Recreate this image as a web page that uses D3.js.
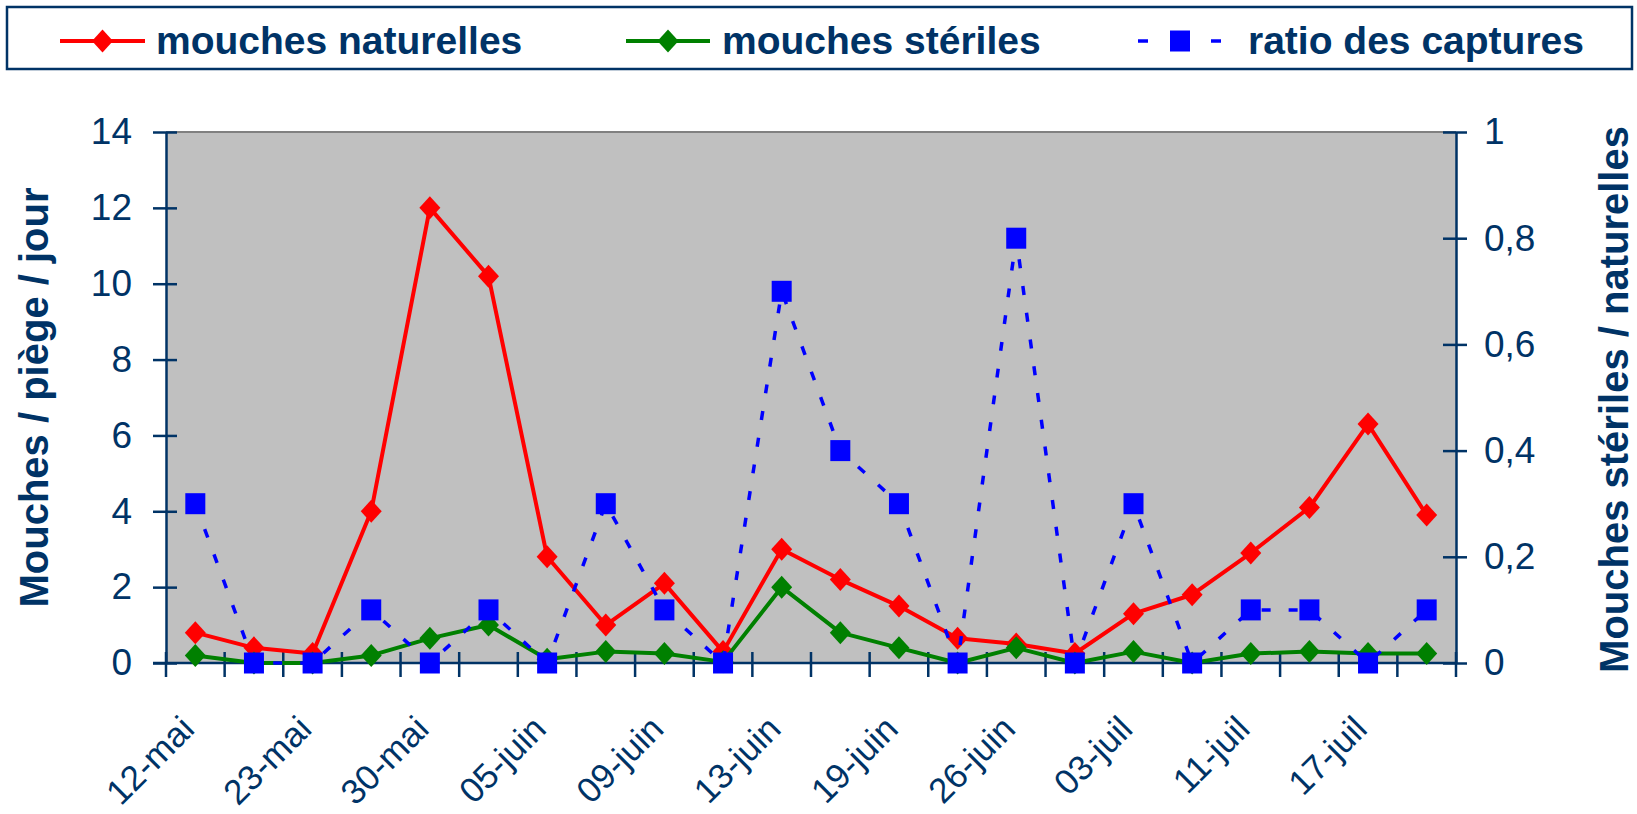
<!DOCTYPE html>
<html>
<head>
<meta charset="utf-8">
<script src="https://cdn.jsdelivr.net/npm/d3@7"></script>
<style>
  body { margin: 0; background: #fff; }
  svg { display: block; font-family: Arial, "Liberation Sans", sans-serif; }
</style>
</head>
<body>
<div id="chart"></div>
<script>
// data
var dateLabels = ["12-mai", "23-mai", "30-mai", "05-juin", "09-juin", "13-juin",
                  "19-juin", "26-juin", "03-juil", "11-juil", "17-juil"];
var naturelles = [0.8, 0.4, 0.25, 4.0, 12.0, 10.2, 2.8, 1.0, 2.1, 0.3, 3.0,
                  2.2, 1.5, 0.65, 0.5, 0.25, 1.3, 1.8, 2.9, 4.1, 6.3, 3.9];
var steriles = [0.2, 0, 0, 0.2, 0.65, 1.0, 0.1, 0.3, 0.25, 0.03, 2.0,
                0.8, 0.4, 0, 0.4, 0, 0.3, 0, 0.25, 0.3, 0.25, 0.25];
var ratio = [0.3, 0, 0, 0.1, 0, 0.1, 0, 0.3, 0.1, 0, 0.7,
             0.4, 0.3, 0, 0.8, 0, 0.3, 0, 0.1, 0.1, 0, 0.1];
var leftTicks = [0, 2, 4, 6, 8, 10, 12, 14];
var rightTicks = [0, 0.2, 0.4, 0.6, 0.8, 1];

var navy = "#003366";
var W = 1637, H = 814;
var plot = { left: 166, right: 1456, top: 132, bottom: 663 };

var svg = d3.select("#chart").append("svg")
  .attr("width", W).attr("height", H);

// scales
var cats = d3.range(naturelles.length);
var x = d3.scaleBand().domain(cats).range([plot.left, plot.right]);
var cx = function(i) { return x(i) + x.bandwidth() / 2; };
var yL = d3.scaleLinear().domain([0, 14]).range([plot.bottom, plot.top]);
var yR = d3.scaleLinear().domain([0, 1]).range([plot.bottom, plot.top]);
var comma = function(d) { return String(d).replace(".", ","); };

// plot area
svg.append("rect")
  .attr("x", plot.left).attr("y", plot.top)
  .attr("width", plot.right - plot.left).attr("height", plot.bottom - plot.top)
  .attr("fill", "#c0c0c0");
svg.append("line")
  .attr("x1", plot.left).attr("x2", plot.right)
  .attr("y1", plot.top).attr("y2", plot.top)
  .attr("stroke", "#808080").attr("stroke-width", 2);

// left axis
var gL = svg.append("g")
  .attr("transform", "translate(" + plot.left + ",0)")
  .call(d3.axisLeft(yL).tickValues(leftTicks).tickSizeInner(13).tickSizeOuter(0).tickPadding(21));
gL.selectAll(".tick line").attr("x1", 11);

// right axis
var gR = svg.append("g")
  .attr("transform", "translate(" + plot.right + ",0)")
  .call(d3.axisRight(yR).tickValues(rightTicks).tickFormat(comma).tickSizeInner(11).tickSizeOuter(0).tickPadding(17));
gR.selectAll(".tick line").attr("x1", -13);

[gL, gR].forEach(function(g) {
  g.select(".domain").attr("stroke", navy).attr("stroke-width", 2.5);
  g.selectAll(".tick line").attr("stroke", navy).attr("stroke-width", 2.5);
  g.selectAll(".tick text").attr("fill", navy).attr("font-size", 37)
    .attr("font-family", "Arial, 'Liberation Sans', sans-serif");
});

// bottom axis: ticks between categories
var gB = svg.append("g");
gB.append("line")
  .attr("x1", plot.left - 13).attr("x2", plot.right)
  .attr("y1", plot.bottom).attr("y2", plot.bottom)
  .attr("stroke", navy).attr("stroke-width", 2.5);
gB.selectAll(".xtick")
  .data(cats.concat([cats.length]))
  .enter().append("line")
  .attr("class", "xtick")
  .attr("x1", function(i) { return i < cats.length ? x(i) : plot.right; })
  .attr("x2", function(i) { return i < cats.length ? x(i) : plot.right; })
  .attr("y1", plot.bottom - 11).attr("y2", plot.bottom + 14)
  .attr("stroke", navy).attr("stroke-width", 2.5);
gB.selectAll(".xlab")
  .data(dateLabels)
  .enter().append("text")
  .attr("class", "xlab")
  .attr("transform", function(d, k) {
    return "translate(" + (cx(k * 2) + 1) + "," + (plot.bottom + 68) + ") rotate(-45)";
  })
  .attr("text-anchor", "end")
  .attr("font-size", 35)
  .attr("fill", navy)
  .text(function(d) { return d; });

// axis titles
svg.append("text")
  .attr("transform", "translate(48," + ((plot.top + plot.bottom) / 2) + ") rotate(-90)")
  .attr("text-anchor", "middle")
  .attr("font-size", 40).attr("font-weight", "bold").attr("fill", navy)
  .text("Mouches / piège / jour");
svg.append("text")
  .attr("transform", "translate(1628," + ((plot.top + plot.bottom) / 2 + 2) + ") rotate(-90)")
  .attr("text-anchor", "middle")
  .attr("font-size", 40).attr("font-weight", "bold").attr("fill", navy)
  .text("Mouches stériles / naturelles");

// series
var diamond = "M0,-11.5L10.5,0L0,11.5L-10.5,0Z";

function drawSolid(values, color) {
  var line = d3.line().x(function(d, i) { return cx(i); }).y(function(d) { return yL(d); });
  svg.append("path").datum(values)
    .attr("d", line).attr("fill", "none")
    .attr("stroke", color).attr("stroke-width", 4).attr("stroke-linejoin", "round");
  svg.append("g").selectAll("path")
    .data(values).enter().append("path")
    .attr("d", diamond)
    .attr("transform", function(d, i) { return "translate(" + cx(i) + "," + yL(d) + ")"; })
    .attr("fill", color);
}
drawSolid(naturelles, "#ff0000");
drawSolid(steriles, "#008000");

var ratioLine = d3.line().x(function(d, i) { return cx(i); }).y(function(d) { return yR(d); });
svg.append("path").datum(ratio)
  .attr("d", ratioLine).attr("fill", "none")
  .attr("stroke", "#0000ff").attr("stroke-width", 3.5)
  .attr("stroke-dasharray", "9,18");
svg.append("g").selectAll("rect")
  .data(ratio).enter().append("rect")
  .attr("x", function(d, i) { return cx(i) - 10; })
  .attr("y", function(d) { return yR(d) - 10.5; })
  .attr("width", 20).attr("height", 21)
  .attr("fill", "#0000ff");

// legend
var leg = svg.append("g");
leg.append("rect")
  .attr("x", 7).attr("y", 7).attr("width", 1625).attr("height", 62)
  .attr("fill", "#fff").attr("stroke", navy).attr("stroke-width", 2.5);

var legY = 41;
var items = [
  { name: "mouches naturelles", color: "#ff0000", x0: 60, x1: 145, tx: 156, mark: "diamond" },
  { name: "mouches stériles", color: "#008000", x0: 626, x1: 710, tx: 722, mark: "diamond" },
  { name: "ratio des captures", color: "#0000ff", x0: 1138, x1: 1222, tx: 1248, mark: "square" }
];
items.forEach(function(it) {
  var mid = (it.x0 + it.x1) / 2;
  var l = leg.append("line")
    .attr("x1", it.x0).attr("x2", it.x1).attr("y1", legY).attr("y2", legY)
    .attr("stroke", it.color).attr("stroke-width", it.mark == "square" ? 3.5 : 4);
  if (it.mark == "square") {
    l.attr("stroke-dasharray", "10,63");
    leg.append("rect").attr("x", mid - 10).attr("y", legY - 10.5)
      .attr("width", 20).attr("height", 21).attr("fill", it.color);
  } else {
    leg.append("path").attr("d", diamond)
      .attr("transform", "translate(" + mid + "," + legY + ")")
      .attr("fill", it.color);
  }
  leg.append("text")
    .attr("x", it.tx).attr("y", 54)
    .attr("font-size", 39).attr("font-weight", "bold").attr("fill", navy)
    .text(it.name);
});
</script>
</body>
</html>
